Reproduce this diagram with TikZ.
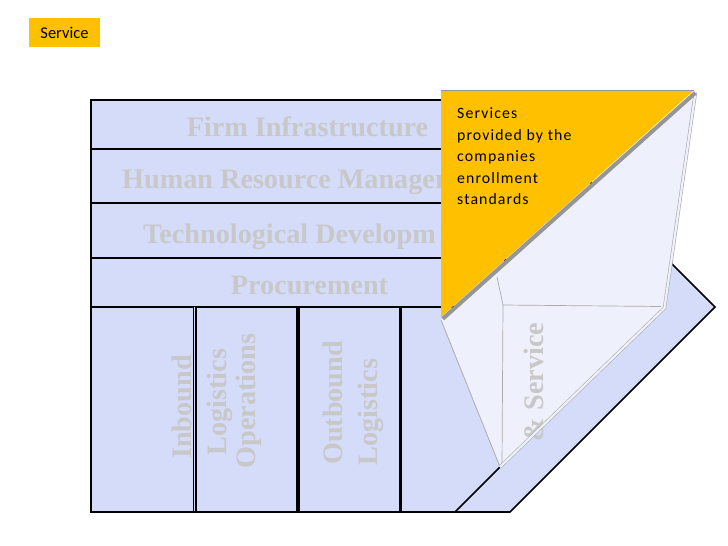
\documentclass[tikz,border=0pt]{standalone}
\usepackage{fontspec}
\setmainfont{Carlito}
\newfontfamily\tnr{Liberation Serif}
\definecolor{vcblue}{RGB}{212,220,250}
\definecolor{vctext}{RGB}{200,200,200}
\definecolor{curlback}{RGB}{238,240,252}
\definecolor{curlyellow}{RGB}{255,192,0}
\definecolor{curlshade}{RGB}{150,150,150}
\definecolor{curlline}{RGB}{172,172,172}
\tikzset{
  band/.style={draw=black, line width=1.6pt, fill=vcblue, line join=miter},
  bigtext/.style={font=\tnr\bfseries\fontsize{28.2}{30}\selectfont, text=vctext, anchor=base, inner sep=0pt},
  coltext/.style={bigtext, rotate=90},
  notetext/.style={font=\fontsize{15.8}{18}\selectfont\addfontfeature{LetterSpace=7}, anchor=base west, inner sep=0pt, text=black},
}
\begin{document}
\begin{tikzpicture}[x=1pt,y=-1pt]
\useasboundingbox (0,0) rectangle (728,546);
\fill[white] (0,0) rectangle (728,546);
% label
\node[fill=curlyellow, minimum width=71pt, minimum height=29pt, inner sep=0pt, font=\fontsize{16.5}{18}\selectfont] (lab) at (64.5,32.8) {Service};
% outer value chain shape
\draw[band] (91,100) -- (508,100) -- (715,307) -- (510,512) -- (91,512) -- cycle;
\draw[band] (401,307) -- (660,307) -- (455,512) -- (401,512) -- cycle;
% support rows
\draw[band] (91,100) rectangle (505,149);
\draw[band] (91,149) rectangle (505,203);
\draw[band] (91,203) rectangle (505,258);
\draw[band] (91,258) rectangle (505,306.5);
% primary columns
\draw[band] (91,307.5) rectangle (193.5,512);
\draw[band] (196,307.5) rectangle (297,512);
\draw[band] (298.8,307.5) rectangle (400,512);
% support texts (cut on the right by the folded corner)
\begin{scope}
\clip (91,100) rectangle (440,306);
\node[bigtext] (t1) at (307.5,136.5) {Firm Infrastructure};
\node[bigtext, anchor=base west] (t2) at (122,188) {Human Resource Manager};
\node[bigtext, anchor=base west] (t3) at (143,243) {Technological Developm};
\node[bigtext] (t4) at (309.5,294) {Procurement};
\end{scope}
% primary texts
\node[coltext] (p1) at (191,407) {Inbound};
\node[coltext] (p2) at (226,402) {Logistics};
\node[coltext] (p3) at (255,401) {Operations};
\node[coltext] (p4) at (342,403) {Outbound};
\node[coltext] (p5) at (377,412) {Logistics};
% curl back side
\fill[curlback] (695,92) -- (664.5,308) -- (500,467) -- (441,320) -- cycle;
\draw[curlline, line width=0.7pt] (497,277) -- (503,305) -- (661,306.5);
\draw[curlline, line width=0.7pt] (503,305) -- (502,466);
\node[coltext] (sv) at (543.5,382) {\& Service};
\draw[curlline, line width=0.8pt] (441,320) -- (500,467);
\draw[curlline, line width=0.6pt, double=curlback, double distance=2.2pt] (695.5,92) -- (664.5,308) -- (500,467);
% shadow and yellow fold
\draw[curlshade, line width=4pt] (442.8,318.8) -- (695.3,92.8);
\fill[curlyellow] (441,90.5) -- (693.5,90.5) -- (441,317) -- cycle;
\draw[curlshade, line width=0.6pt] (441,90.5) -- (693.5,90.5);
% note text
\node[notetext] (n1) at (457,118.5) {Services};
\node[notetext] (n2) at (457,140) {provided by the};
\node[notetext] (n3) at (457,161.5) {companies};
\node[notetext] (n4) at (457,183) {enrollment};
\node[notetext] (n5) at (457,204.5) {standards};
\end{tikzpicture}
\end{document}
